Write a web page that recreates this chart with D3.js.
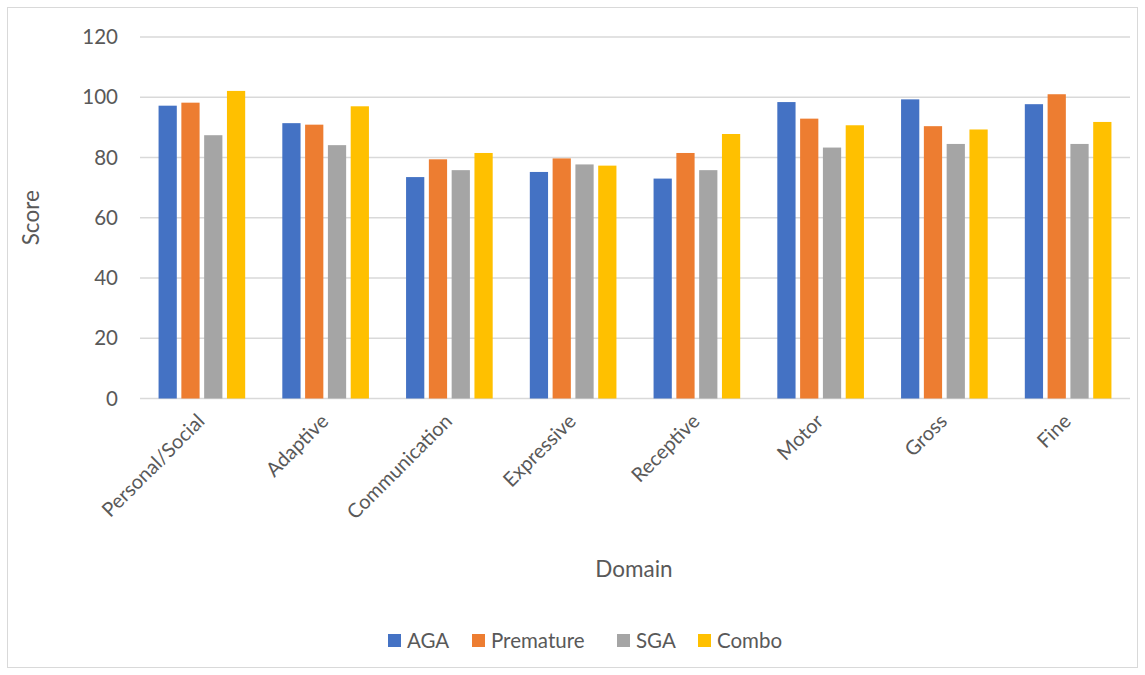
<!DOCTYPE html>
<html>
<head>
<meta charset="utf-8">
<script src="https://cdn.jsdelivr.net/npm/d3@7"></script>
<style>
  body { margin: 0; background: #fff; }
  text { font-family: Lato, "Open Sans", sans-serif; fill: #595959; }
</style>
</head>
<body>
<div id="container"></div>
<script>
/* CONSTANTS AND GLOBALS */
const width = 1145,
  height = 675,
  margin = { top: 37, bottom: 276.5, left: 140, right: 15 };

/* DATA */
const domains = ["Personal/Social", "Adaptive", "Communication", "Expressive", "Receptive", "Motor", "Gross", "Fine"];
const groups = ["AGA", "Premature", "SGA", "Combo"];
const colors = ["#4472c4", "#ed7d31", "#a5a5a5", "#ffc000"];
const aga = [97.2, 91.4, 73.5, 75.2, 73.0, 98.4, 99.3, 97.7];
const premature = [98.2, 90.9, 79.4, 79.7, 81.5, 92.9, 90.4, 101.0];
const sga = [87.4, 84.1, 75.8, 77.7, 75.8, 83.3, 84.5, 84.5];
const combo = [102.1, 97.0, 81.5, 77.3, 87.8, 90.7, 89.3, 91.8];
const yTicks = [0, 20, 40, 60, 80, 100, 120];

const seriesValues = [aga, premature, sga, combo];
const data = domains.map((d, i) => ({
  domain: d,
  values: groups.map((g, j) => ({ group: g, value: seriesValues[j][i] }))
}));

/* SCALES */
const xScale = d3.scaleBand()
  .domain(domains)
  .range([margin.left, width - margin.right])
  .paddingInner(0.3)
  .paddingOuter(0.15);

const xInner = d3.scaleBand()
  .domain(groups)
  .range([0, xScale.bandwidth()])
  .paddingInner(0.2);

const yScale = d3.scaleLinear()
  .domain([0, 120])
  .range([height - margin.bottom, margin.top]);

const colorScale = d3.scaleOrdinal()
  .domain(groups)
  .range(colors);

/* HTML ELEMENTS */
const svg = d3.select("#container")
  .append("svg")
  .attr("width", width)
  .attr("height", height);

// chart border
svg.append("rect")
  .attr("x", 7.5)
  .attr("y", 7.5)
  .attr("width", 1130)
  .attr("height", 660)
  .attr("fill", "none")
  .attr("stroke", "#d9d9d9");

// gridlines
svg.append("g")
  .selectAll("line")
  .data(yTicks)
  .join("line")
  .attr("x1", margin.left)
  .attr("x2", width - margin.right)
  .attr("y1", d => yScale(d))
  .attr("y2", d => yScale(d))
  .attr("stroke", "#d9d9d9")
  .attr("stroke-width", 1.5);

// y axis labels
const yAxis = d3.axisLeft(yScale).tickValues(yTicks).tickSize(0).tickPadding(22);
svg.append("g")
  .attr("transform", `translate(${margin.left},0)`)
  .call(yAxis)
  .call(g => g.select(".domain").remove())
  .call(g => g.selectAll("text")
    .style("font-size", "20.5px")
    .style("font-family", "Lato, 'Open Sans', sans-serif")
    .attr("fill", "#595959"));

// bars
const groupG = svg.append("g")
  .selectAll("g")
  .data(data)
  .join("g")
  .attr("transform", d => `translate(${xScale(d.domain)},0)`);

groupG.selectAll("rect")
  .data(d => d.values)
  .join("rect")
  .attr("x", d => xInner(d.group))
  .attr("y", d => yScale(d.value))
  .attr("width", xInner.bandwidth())
  .attr("height", d => yScale(0) - yScale(d.value))
  .attr("fill", d => colorScale(d.group));

// x axis labels
svg.append("g")
  .selectAll("text")
  .data(domains)
  .join("text")
  .attr("text-anchor", "end")
  .attr("transform", d => `translate(${xScale(d) + xScale.bandwidth() / 2 + 4},${yScale(0) + 24}) rotate(-45)`)
  .style("font-size", "20px")
  .text(d => d);

// axis titles
svg.append("text")
  .attr("text-anchor", "middle")
  .attr("transform", `translate(39,${yScale(60)}) rotate(-90)`)
  .style("font-size", "22.5px")
  .text("Score");

svg.append("text")
  .attr("text-anchor", "middle")
  .attr("x", 634)
  .attr("y", 577)
  .style("font-size", "22.5px")
  .text("Domain");

// legend
const legendX = [388, 472, 617, 698];
const legend = svg.append("g")
  .selectAll("g")
  .data(groups)
  .join("g")
  .attr("transform", (d, i) => `translate(${legendX[i]},634)`);

legend.append("rect")
  .attr("width", 13)
  .attr("height", 13)
  .attr("fill", d => colorScale(d));

legend.append("text")
  .attr("x", 19)
  .attr("y", 13.5)
  .style("font-size", "20.5px")
  .text(d => d);
</script>
</body>
</html>
